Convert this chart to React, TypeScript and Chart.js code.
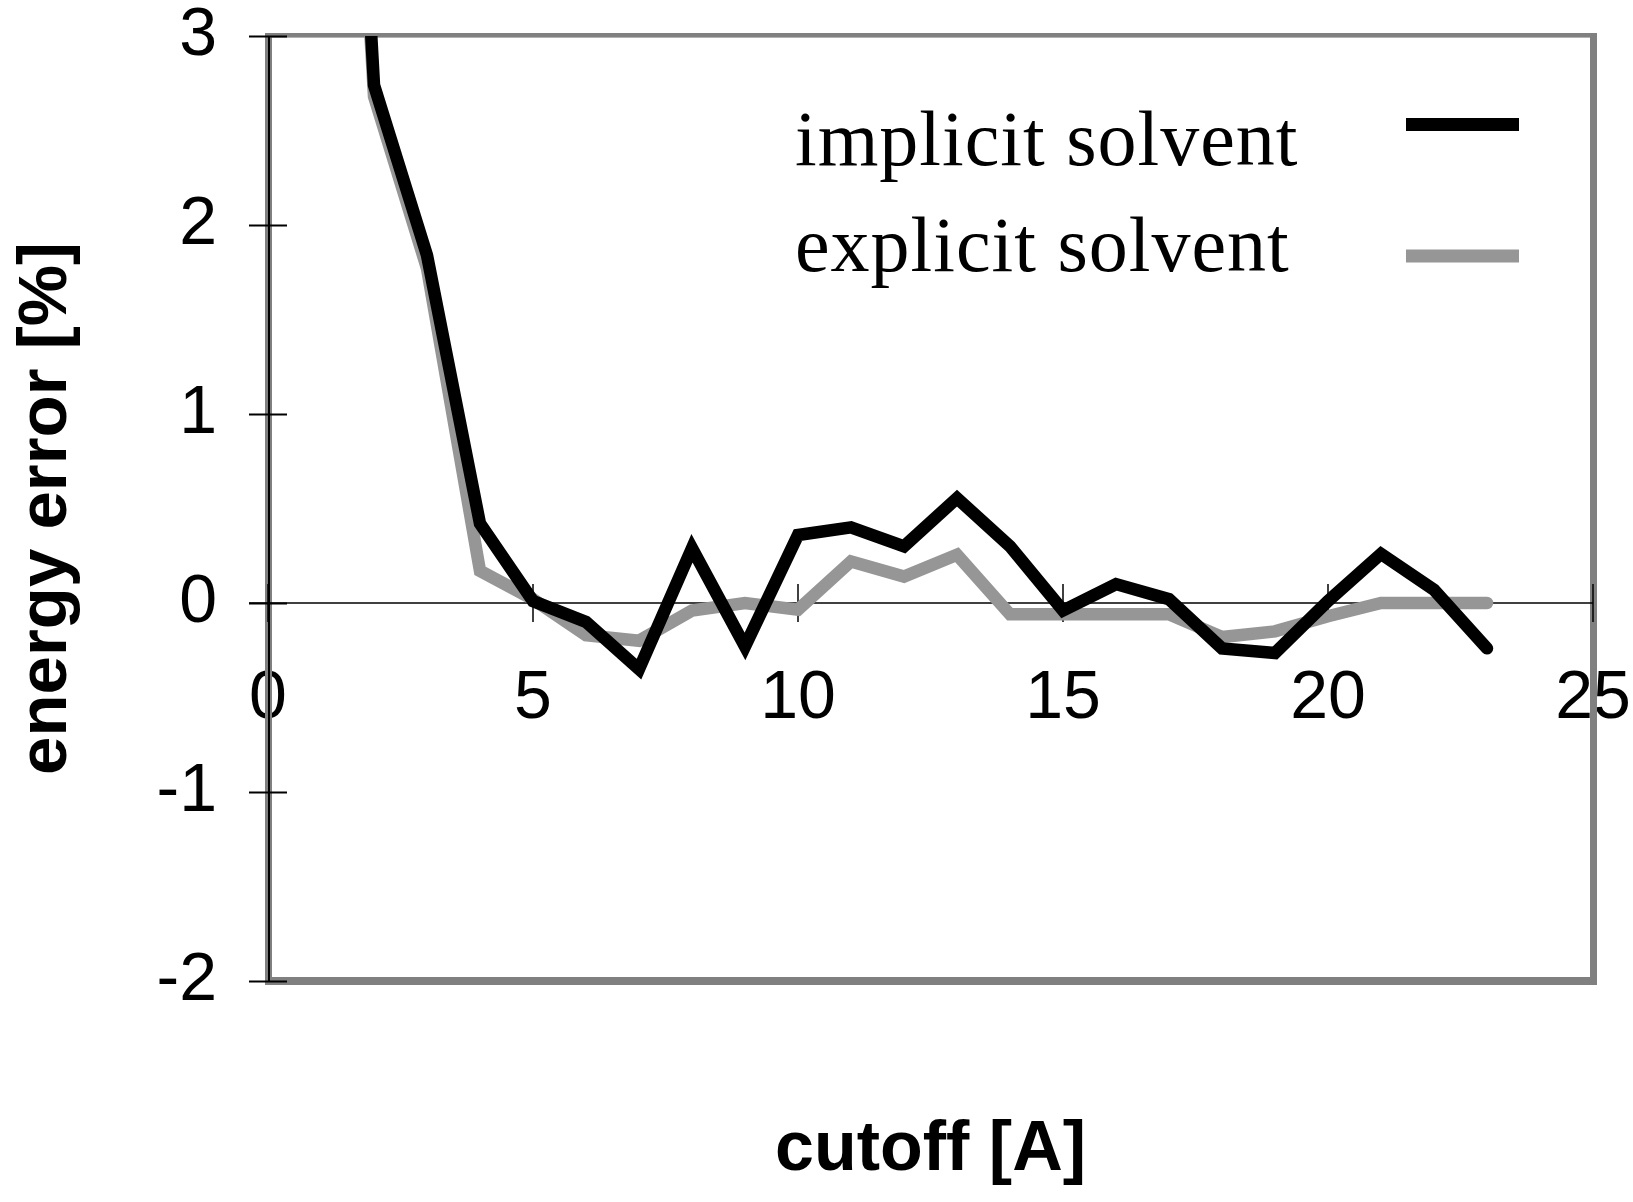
import React, { useEffect, useRef } from "react";
import { Chart, registerables } from "chart.js";

Chart.register(...registerables);

// ---- data ----
const cutoff = [1, 2, 3, 4, 5, 6, 7, 8, 9, 10, 11, 12, 13, 14, 15, 16, 17, 18, 19, 20, 21, 22, 23];
const implicitSolvent = [7.8, 2.74, 1.84, 0.42, 0.01, -0.1, -0.35, 0.29, -0.23, 0.36, 0.4, 0.3, 0.555, 0.3, -0.04, 0.1, 0.02, -0.24, -0.265, 0.01, 0.26, 0.07, -0.24];
const explicitSolvent = [7.5, 2.68, 1.77, 0.17, 0.02, -0.17, -0.2, -0.04, 0.0, -0.035, 0.22, 0.14, 0.255, -0.06, -0.06, -0.06, -0.06, -0.18, -0.15, -0.07, 0.0, 0.0, 0.0];
const seriesLabels = ["implicit solvent", "explicit solvent"];
const seriesColors = ["#000000", "#969696"];
const xTitle = "cutoff [A]";
const yTitle = "energy error [%]";

const SANS = '"Liberation Sans", Arial, sans-serif';
const SERIF = '"Liberation Serif", "Times New Roman", serif';

const framePlugin = {
  id: "frame",
  beforeDatasetsDraw(chart: any) {
    const { ctx, chartArea: ca, scales } = chart;
    const xs = scales.x;
    const ys = scales.y;
    const w = ca.right - ca.left;
    const h = ca.bottom - ca.top;
    ctx.save();
    // gray plot frame
    ctx.fillStyle = "#808080";
    ctx.fillRect(ca.left - 3, ca.top - 3, w + 7, 4.6);
    ctx.fillRect(ca.left - 3, ca.bottom - 4, w + 7, 8);
    ctx.fillRect(ca.left - 3, ca.top - 3, 7, h + 7);
    ctx.fillRect(ca.right - 3, ca.top - 3, 7, h + 7);
    // y axis line
    ctx.strokeStyle = "#000";
    ctx.lineWidth = 2;
    ctx.beginPath();
    ctx.moveTo(ca.left + 1, ca.top);
    ctx.lineTo(ca.left + 1, ca.bottom);
    ctx.stroke();
    // x axis line at y = 0
    const y0 = ys.getPixelForValue(0);
    ctx.lineWidth = 1.3;
    ctx.beginPath();
    ctx.moveTo(ca.left - 19, y0);
    ctx.lineTo(ca.right, y0);
    ctx.stroke();
    // cross tick marks
    ctx.lineWidth = 2;
    ys.ticks.forEach((t: any) => {
      const py = Math.round(ys.getPixelForValue(t.value)) + 0.5;
      ctx.beginPath();
      ctx.moveTo(ca.left - 19, py);
      ctx.lineTo(ca.left + 19, py);
      ctx.stroke();
    });
    ctx.lineWidth = 1.5;
    xs.ticks.forEach((t: any) => {
      const px = xs.getPixelForValue(t.value);
      ctx.beginPath();
      ctx.moveTo(px, y0 - 19);
      ctx.lineTo(px, y0 + 19);
      ctx.stroke();
    });
    ctx.restore();
  },
};

const legendPlugin = {
  id: "customLegend",
  afterDatasetsDraw(chart: any) {
    const { ctx, chartArea: ca } = chart;
    ctx.save();
    chart.data.datasets.forEach((d: any, i: number) => {
      ctx.font = `78px ${SERIF}`;
      ctx.fillStyle = "#000";
      ctx.textAlign = "left";
      ctx.textBaseline = "alphabetic";
      (ctx as any).letterSpacing = "1px";
      ctx.fillText(d.label, ca.left + 527, ca.top + 129 + i * 106);
      const sy = ca.top + 88.5 + i * 131.5;
      ctx.strokeStyle = d.borderColor;
      ctx.lineWidth = 13;
      ctx.lineCap = "butt";
      ctx.beginPath();
      ctx.moveTo(ca.right - 187, sy);
      ctx.lineTo(ca.right - 74, sy);
      ctx.stroke();
    });
    ctx.restore();
  },
};

export default function App() {
  const ref = useRef<HTMLCanvasElement | null>(null);

  useEffect(() => {
    if (!ref.current) return;
    const series = [implicitSolvent, explicitSolvent];
    const chart = new Chart(ref.current, {
      type: "line",
      data: {
        datasets: series.map((vals, i) => ({
          label: seriesLabels[i],
          data: cutoff.map((c, j) => ({ x: c, y: vals[j] })),
          borderColor: seriesColors[i],
          backgroundColor: seriesColors[i],
          borderWidth: 12.5,
          pointRadius: 0,
          pointHoverRadius: 0,
          tension: 0,
          fill: false,
          borderCapStyle: "round",
          borderJoinStyle: "miter",
        })),
      },
      options: {
        responsive: false,
        animation: false,
        devicePixelRatio: 1,
        events: [],
        layout: { padding: { top: 36, right: 40, bottom: 221, left: 0 } },
        plugins: {
          legend: { display: false },
          tooltip: { enabled: false },
        },
        scales: {
          x: {
            type: "linear",
            min: 0,
            max: 25,
            position: { y: 0 },
            grid: { display: false, drawTicks: false },
            border: { display: false },
            ticks: {
              stepSize: 5,
              padding: 55,
              color: "#000",
              maxRotation: 0,
              autoSkip: false,
              font: { family: SANS, size: 68 },
            },
            title: {
              display: true,
              text: xTitle,
              color: "#000",
              padding: 0,
              font: { family: SANS, size: 70, weight: "bold" },
            },
            afterFit: (s: any) => {
              s.height = 590;
              s.paddingLeft = 0;
              s.paddingRight = 0;
            },
          },
          y: {
            type: "linear",
            min: -2,
            max: 3,
            position: "left",
            grid: { display: false, drawTicks: false },
            border: { display: false },
            ticks: {
              stepSize: 1,
              padding: 51,
              color: "#000",
              font: { family: SANS, size: 68 },
            },
            title: {
              display: true,
              text: yTitle,
              color: "#000",
              padding: { top: 6, bottom: 0 },
              font: { family: SANS, size: 69, weight: "bold" },
            },
            afterFit: (s: any) => {
              s.width = 268;
              s.paddingTop = 0;
              s.paddingBottom = 0;
            },
          },
        },
      } as any,
      plugins: [framePlugin, legendPlugin],
    });
    return () => chart.destroy();
  }, []);

  return (
    <div style={{ position: "fixed", left: 0, top: 0, width: 1633, height: 1202, background: "#fff" }}>
      <canvas ref={ref} width={1633} height={1202} style={{ display: "block", width: 1633, height: 1202 }} />
    </div>
  );
}
